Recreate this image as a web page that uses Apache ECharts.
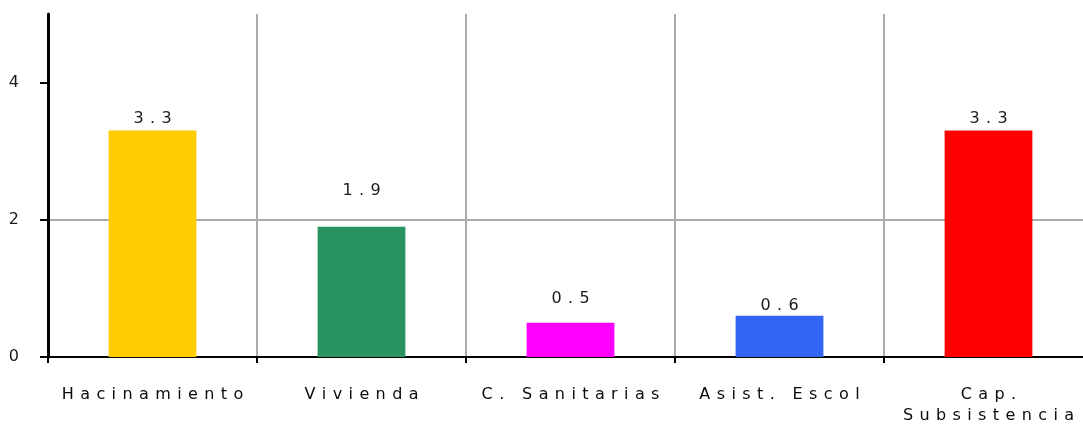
<!DOCTYPE html>
<html>
<head>
<meta charset="utf-8">
<title>Indicadores</title>
<script src="https://cdn.jsdelivr.net/npm/echarts@6/dist/echarts.min.js"></script>
<style>
  html, body { margin: 0; padding: 0; background: #ffffff; }
  #chart { width: 1083px; height: 429px; }
</style>
</head>
<body>
<div id="chart"></div>
<script>
// Categories and their values
const categories = ['Hacinamiento', 'Vivienda', 'C. Sanitarias', 'Asist. Escol', 'Cap. Subsistencia'];
const values = [3.3, 1.9, 0.5, 0.6, 3.3];
const yTicks = [0, 2, 4];

// Styling per bar
const barColors = ['#FFCC00', '#2A9461', '#FF00FF', '#3366F5', '#FF0000'];
const labelGaps = [4, 28, 16, 2, 4];

// Two thin spaces between letters for the wide tracking
const GAP = '\u2009\u2009';
function spread(str) {
  return str.split('').join(GAP);
}

const FONT = '"DejaVu Sans", Verdana, sans-serif';

const chart = echarts.init(document.getElementById('chart'), null, { renderer: 'canvas' });

const option = {
  backgroundColor: '#ffffff',
  animation: false,
  grid: {
    left: 48,
    top: 14,
    width: 1045,
    height: 343,
    containLabel: false,
    outerBoundsMode: 'none'
  },
  xAxis: {
    type: 'category',
    data: categories,
    boundaryGap: true,
    axisLine: { show: true, lineStyle: { color: '#000000', width: 2 } },
    axisTick: { show: true, length: 6, lineStyle: { color: '#000000', width: 2 } },
    splitLine: { show: true, lineStyle: { color: '#ababab', width: 2 } },
    axisLabel: {
      interval: 0,
      margin: 27,
      color: '#0a0a0a',
      fontFamily: FONT,
      fontSize: 16,
      lineHeight: 21,
      formatter: function (name) {
        const words = name.split(' ');
        if (name.length > 14) {
          return words.map(spread).join('\n');
        }
        return spread(name);
      }
    }
  },
  yAxis: {
    type: 'value',
    min: 0,
    max: 5,
    interval: 2,
    axisLine: { show: true, lineStyle: { color: '#000000', width: 3 } },
    axisTick: { show: true, length: 8, customValues: yTicks, lineStyle: { color: '#000000', width: 2 } },
    splitLine: { show: true, showMinLine: false, showMaxLine: false, lineStyle: { color: '#ababab', width: 2 } },
    axisLabel: {
      customValues: yTicks,
      margin: 29,
      color: '#1a1a1a',
      fontFamily: FONT,
      fontSize: 16
    }
  },
  series: [{
    type: 'bar',
    barWidth: '42%',
    data: values.map(function (v, i) {
      return {
        value: v,
        itemStyle: { color: barColors[i] },
        label: { distance: labelGaps[i] }
      };
    }),
    label: {
      show: true,
      position: 'top',
      color: '#1a1a1a',
      fontFamily: FONT,
      fontSize: 16,
      formatter: function (p) { return spread(String(p.value)); }
    }
  }]
};

chart.setOption(option);
</script>
</body>
</html>
